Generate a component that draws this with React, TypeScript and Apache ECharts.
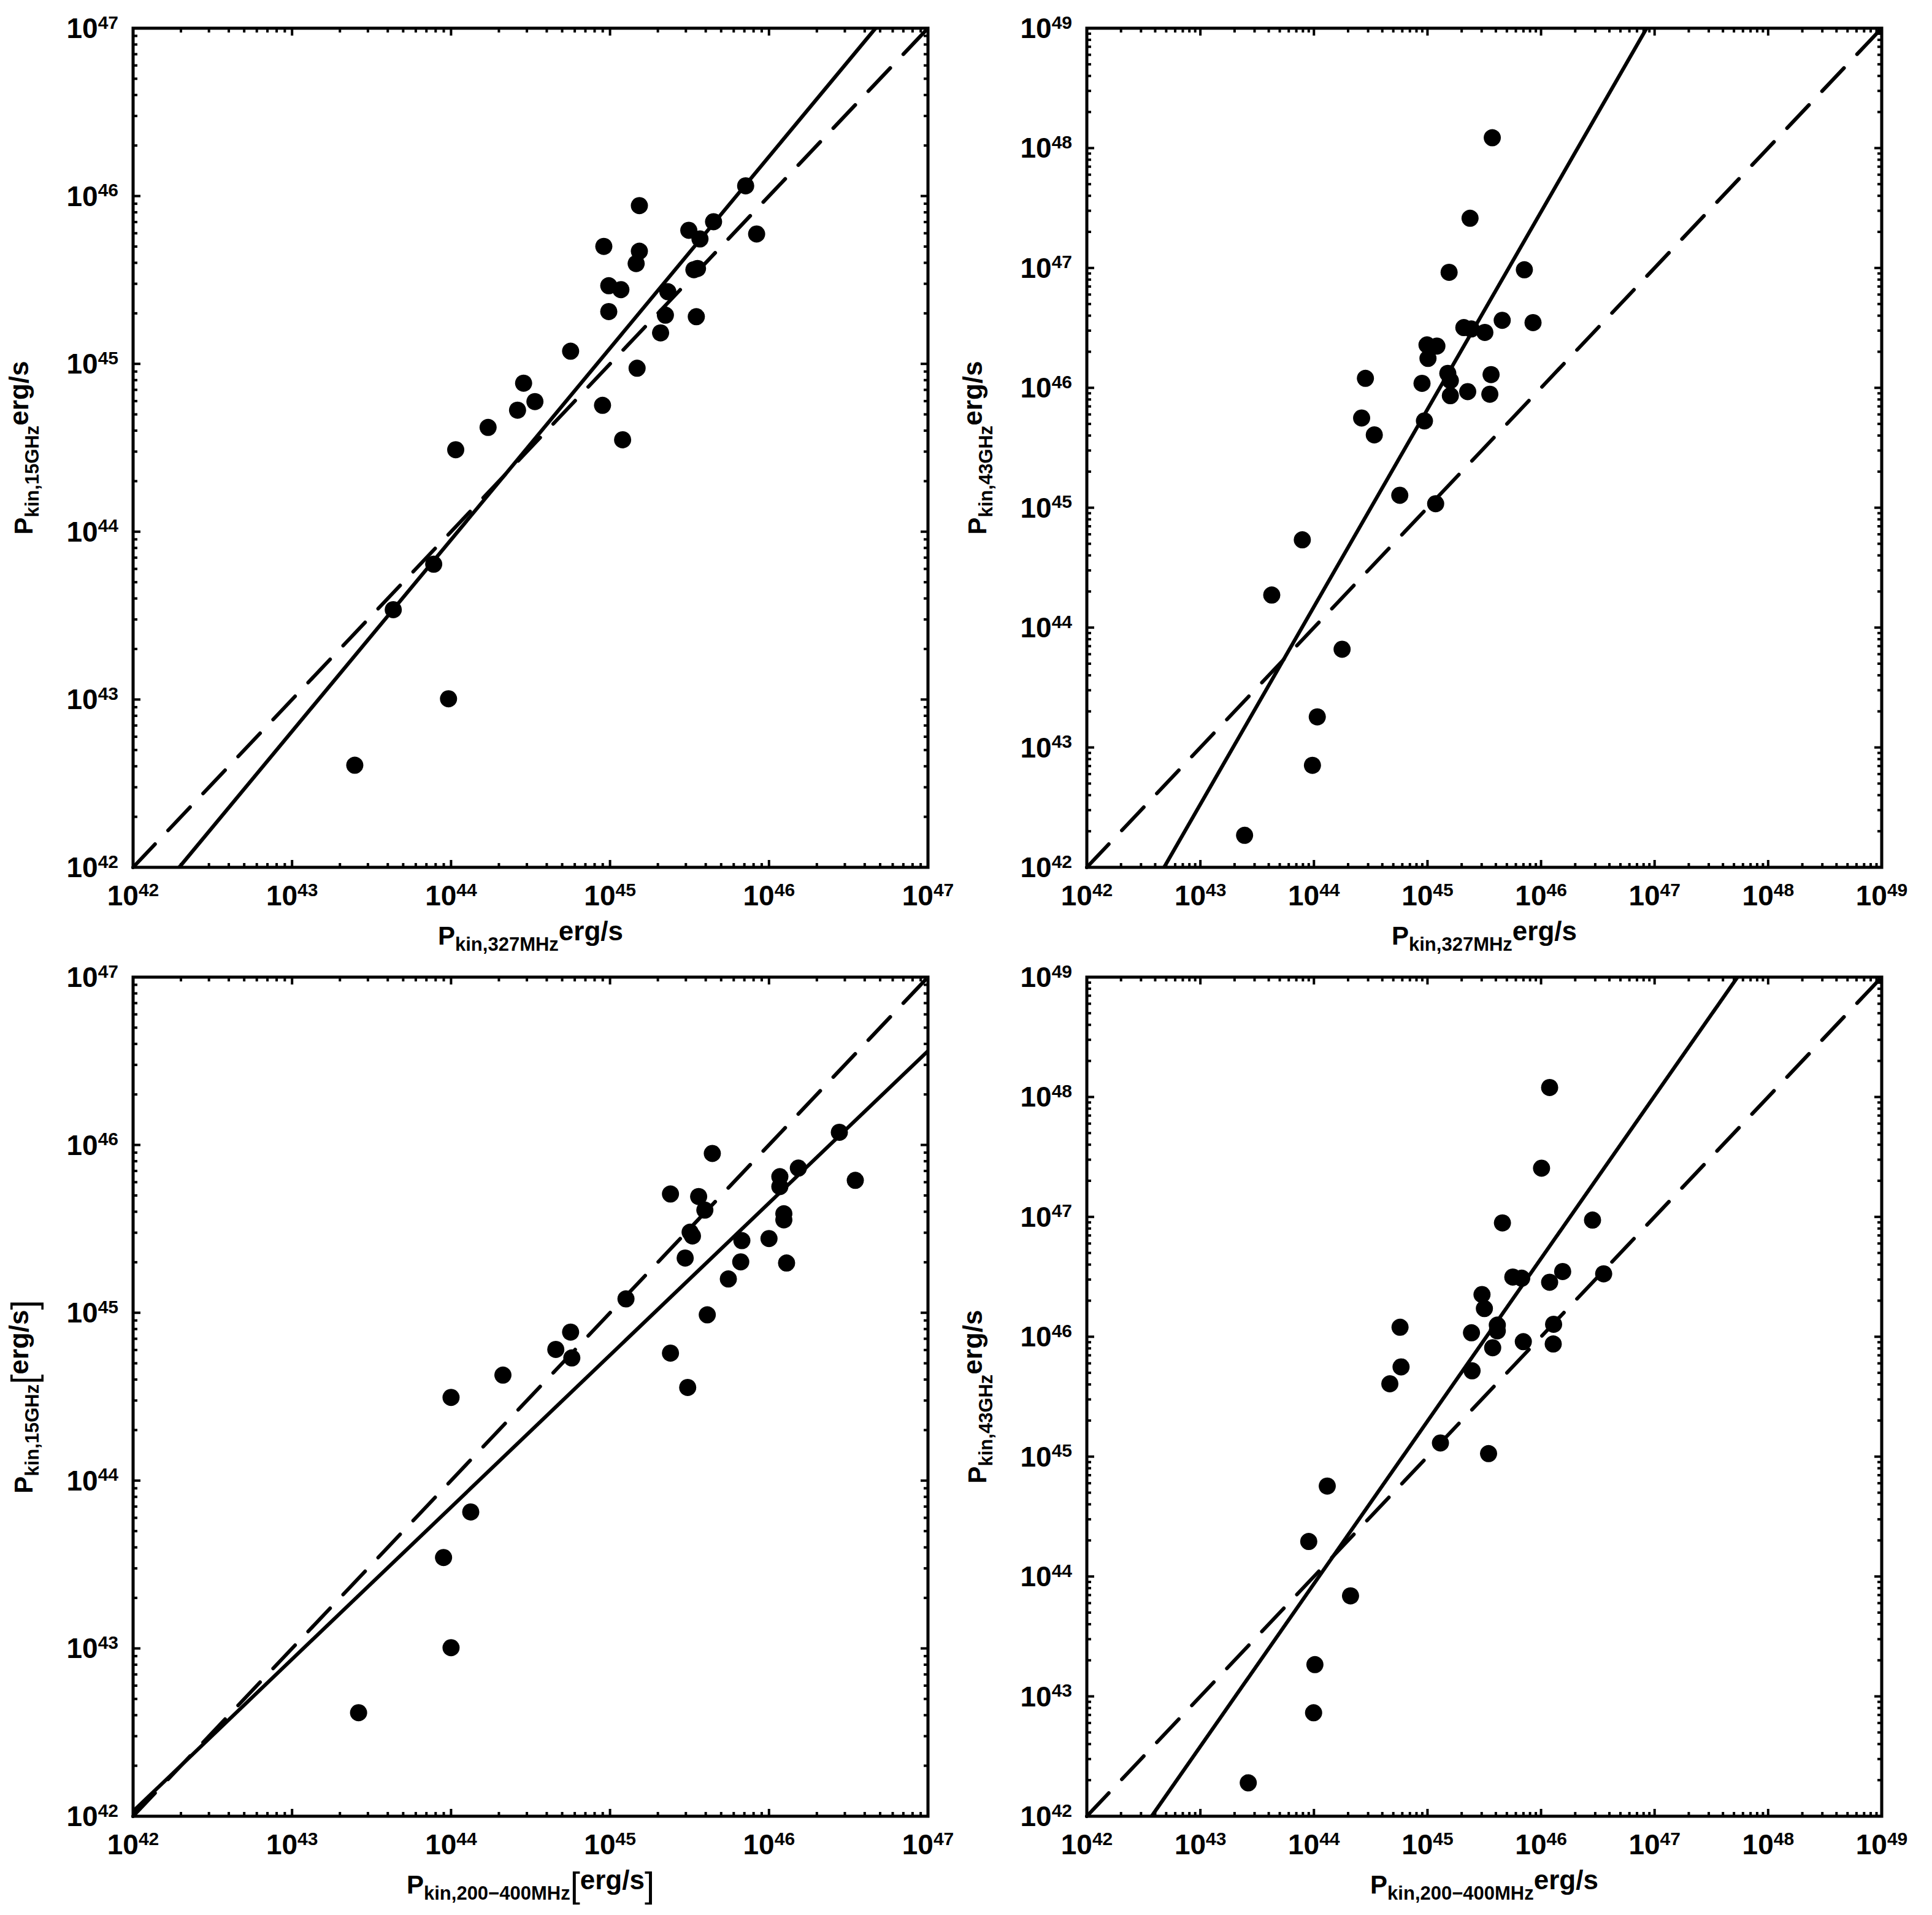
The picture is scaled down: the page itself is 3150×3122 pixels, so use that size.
import React, { useEffect, useRef } from 'react';
import * as echarts from 'echarts';

// ---------- data ----------
// Panel 1: P_kin,327MHz vs P_kin,15GHz
const p1X = [2.48e43, 4.33e43, 7.78e43, 9.64e43, 1.07e44, 1.71e44, 2.62e44, 2.86e44, 3.37e44, 5.65e44, 8.97e44, 9.14e44, 9.82e44, 9.82e44, 1.17e45, 1.2e45, 1.46e45, 1.48e45, 1.53e45, 1.53e45, 2.08e45, 2.23e45, 2.31e45, 3.13e45, 3.37e45, 3.55e45, 3.49e45, 3.68e45, 4.48e45, 7.13e45, 8.36e45];
const p1Y = [4.06e42, 3.43e43, 6.4e43, 1.01e43, 3.08e44, 4.18e44, 5.3e44, 7.67e44, 5.96e44, 1.19e45, 5.66e44, 5.01e45, 2.92e45, 2.05e45, 2.77e45, 3.53e44, 3.96e45, 9.42e44, 4.69e45, 8.77e45, 1.53e45, 1.95e45, 2.69e45, 6.25e45, 3.64e45, 3.7e45, 1.91e45, 5.55e45, 7.03e45, 1.15e46, 5.94e45];

// Panel 2: P_kin,327MHz vs P_kin,43GHz
const p2X = [2.45e43, 4.25e43, 7.9e43, 9.7e43, 1.07e44, 1.77e44, 2.63e44, 2.84e44, 3.4e44, 5.7e44, 8.95e44, 9.4e44, 9.9e44, 1.01e45, 1.18e45, 1.21e45, 1.51e45, 1.55e45, 1.59e45, 1.59e45, 2.09e45, 2.26e45, 2.37e45, 2.43e45, 3.2e45, 3.54e45, 3.63e45, 3.72e45, 4.55e45, 7.13e45, 8.5e45];
const p2Y = [1.85e42, 1.87e44, 5.4e44, 7.1e42, 1.8e43, 6.6e43, 5.6e45, 1.2e46, 4.05e45, 1.27e45, 1.09e46, 5.3e45, 2.28e46, 1.76e46, 1.08e45, 2.23e46, 1.32e46, 9.2e46, 8.6e45, 1.15e46, 3.18e46, 9.3e45, 2.6e47, 3.1e46, 2.9e46, 8.85e45, 1.29e46, 1.22e48, 3.66e46, 9.66e46, 3.5e46];

// Panel 3: P_kin,200-400MHz vs P_kin,15GHz
const p3X = [2.62e43, 8.97e43, 1.0e44, 1.0e44, 1.33e44, 2.12e44, 4.56e44, 5.65e44, 5.75e44, 1.26e45, 2.4e45, 2.4e45, 2.97e45, 3.08e45, 3.19e45, 3.3e45, 3.61e45, 3.95e45, 4.09e45, 4.4e45, 5.55e45, 6.64e45, 6.75e45, 1.0e46, 1.17e46, 1.17e46, 1.24e46, 1.24e46, 1.29e46, 1.53e46, 2.77e46, 3.49e46];
const p3Y = [4.14e42, 3.48e43, 1.01e43, 3.13e44, 6.5e43, 4.25e44, 6.05e44, 7.67e44, 5.38e44, 1.21e45, 5.1e45, 5.75e44, 2.12e45, 3.59e44, 3.02e45, 2.87e45, 4.93e45, 4.09e45, 9.72e44, 8.9e45, 1.59e45, 2.01e45, 2.69e45, 2.77e45, 6.47e45, 5.65e45, 3.58e45, 3.89e45, 1.98e45, 7.28e45, 1.19e46, 6.15e45];

// Panel 4: P_kin,200-400MHz vs P_kin,43GHz
const p4X = [2.64e43, 9.0e43, 9.93e43, 1.02e44, 1.31e44, 2.1e44, 4.66e44, 5.85e44, 5.73e44, 1.3e45, 2.44e45, 2.47e45, 3.02e45, 3.17e45, 3.45e45, 3.75e45, 4.12e45, 4.12e45, 4.57e45, 5.64e45, 6.76e45, 6.98e45, 1.01e46, 1.19e46, 1.19e46, 1.28e46, 1.29e46, 1.55e46, 2.84e46, 3.56e46];
const p4Y = [1.9e42, 1.96e44, 7.3e42, 1.84e43, 5.68e44, 6.9e43, 4.05e45, 5.6e45, 1.2e46, 1.3e45, 1.08e46, 5.2e45, 2.25e46, 1.72e46, 1.06e45, 8.1e45, 1.25e46, 1.12e46, 8.9e46, 3.15e46, 3.08e46, 9.1e45, 2.55e47, 1.2e48, 2.85e46, 8.7e45, 1.27e46, 3.5e46, 9.4e46, 3.35e46];

// fitted (solid) lines, endpoints
const fit1X = [1.95e42, 4.68e46];
const fit1Y = [1e42, 1e47];
const fit2X = [4.79e42, 8.51e46];
const fit2Y = [1e42, 1e49];
const fit3X = [1e42, 1e47];
const fit3Y = [1.07e42, 3.63e46];
const fit4X = [3.72e42, 5.37e47];
const fit4Y = [1e42, 1e49];

// one-to-one (dashed) lines
const equal47 = [1e42, 1e47];
const equal49 = [1e42, 1e49];

// axis ranges (decade exponents)
const expMin = 42;
const expMax47 = 47;
const expMax49 = 49;
const minorMantissas = [2, 3, 4, 5, 6, 7, 8, 9];

// axis titles
const xTitle1 = '{p|P}{sub|kin,327MHz}{u|erg/s}';
const xTitle2 = '{p|P}{sub|kin,327MHz}{u|erg/s}';
const xTitle3 = '{p|P}{sub|kin,200\u2212400MHz}{br|[}{u|erg/s}{br|]}';
const xTitle4 = '{p|P}{sub|kin,200\u2212400MHz}{u|erg/s}';
const yTitle1 = '{p|P}{sub|kin,15GHz}{u|erg/s}';
const yTitle2 = '{p|P}{sub|kin,43GHz}{u|erg/s}';
const yTitle3 = '{p|P}{sub|kin,15GHz}{br|[}{u|erg/s}{br|]}';
const yTitle4 = '{p|P}{sub|kin,43GHz}{u|erg/s}';

const FONT = "'Liberation Sans', Arial, Helvetica, sans-serif";

const panels = [
  { x: p1X, y: p1Y, fitX: fit1X, fitY: fit1Y, eq: equal47, xExp: expMax47, yExp: expMax47, xName: xTitle1, yName: yTitle1, left: 217, top: 46 },
  { x: p2X, y: p2Y, fitX: fit2X, fitY: fit2Y, eq: equal49, xExp: expMax49, yExp: expMax49, xName: xTitle2, yName: yTitle2, left: 1772, top: 46 },
  { x: p3X, y: p3Y, fitX: fit3X, fitY: fit3Y, eq: equal47, xExp: expMax47, yExp: expMax47, xName: xTitle3, yName: yTitle3, left: 217, top: 1593 },
  { x: p4X, y: p4Y, fitX: fit4X, fitY: fit4Y, eq: equal49, xExp: expMax49, yExp: expMax49, xName: xTitle4, yName: yTitle4, left: 1772, top: 1593 },
];

const GRID_W = 1296;
const GRID_H = 1368;

const pow10 = (e: number) => Number('1e' + e);

function tickList(maxExp: number) {
  const major: number[] = [];
  const minor: number[] = [];
  for (let e = expMin; e <= maxExp; e++) {
    major.push(pow10(e));
    if (e < maxExp) minorMantissas.forEach((m) => minor.push(Number(m + 'e' + e)));
  }
  return { major, minor };
}

const labelRich = {
  b: { fontSize: 46, fontWeight: 'bold', fontFamily: FONT, color: '#000', lineHeight: 50 },
  s: { fontSize: 30, fontWeight: 'bold', fontFamily: FONT, color: '#000', lineHeight: 30, verticalAlign: 'top' },
};

const nameRich = {
  p: { fontSize: 42, fontWeight: 'bold', fontFamily: FONT, color: '#000', lineHeight: 60, verticalAlign: 'middle' },
  sub: { fontSize: 31, fontWeight: 'bold', fontFamily: FONT, color: '#000', lineHeight: 38, verticalAlign: 'bottom' },
  u: { fontSize: 44, fontWeight: 'bold', fontFamily: FONT, color: '#000', lineHeight: 43, verticalAlign: 'top' },
  br: { fontSize: 58, fontWeight: 'normal', fontFamily: FONT, color: '#000', lineHeight: 60, verticalAlign: 'middle' },
};

const labelFormatter = (v: number) => {
  const e = Math.round(Math.log10(v));
  return '{b|10}{s|' + e + '}';
};

function buildOption() {
  const grid: any[] = [];
  const xAxis: any[] = [];
  const yAxis: any[] = [];
  const series: any[] = [];

  panels.forEach((p, i) => {
    const xMax = pow10(p.xExp);
    const yMax = pow10(p.yExp);
    const yMin = pow10(expMin);
    const xMin = pow10(expMin);
    grid.push({
      left: p.left,
      top: p.top,
      width: GRID_W,
      height: GRID_H,
      show: true,
      borderColor: '#000',
      borderWidth: 5,
      backgroundColor: 'transparent',
      containLabel: false,
      outerBoundsMode: 'none',
    });
    xAxis.push({
      type: 'log',
      logBase: 10,
      gridIndex: i,
      min: xMin,
      max: xMax,
      splitNumber: p.xExp - expMin,
      axisLine: { show: false },
      axisTick: { show: false },
      minorTick: { show: false },
      splitLine: { show: false },
      axisLabel: { formatter: labelFormatter, rich: labelRich, margin: 21, showMinLabel: true, showMaxLabel: true, hideOverlap: false },
      name: p.xName,
      nameLocation: 'middle',
      nameGap: 81,
      nameTextStyle: { rich: nameRich, color: '#000' },
    });
    yAxis.push({
      type: 'log',
      logBase: 10,
      gridIndex: i,
      min: yMin,
      max: yMax,
      splitNumber: p.yExp - expMin,
      axisLine: { show: false },
      axisTick: { show: false },
      minorTick: { show: false },
      splitLine: { show: false },
      axisLabel: { formatter: labelFormatter, rich: labelRich, margin: 24, showMinLabel: true, showMaxLabel: true, hideOverlap: false },
      name: p.yName,
      nameLocation: 'middle',
      nameGap: 149,
      nameTextStyle: { rich: nameRich, color: '#000' },
    });

    // scatter points
    series.push({
      type: 'scatter',
      xAxisIndex: i,
      yAxisIndex: i,
      symbol: 'circle',
      symbolSize: 28,
      itemStyle: { color: '#000', opacity: 1 },
      data: p.x.map((v, k) => [v, p.y[k]]),
      z: 3,
    });
    // fitted solid line
    series.push({
      type: 'line',
      xAxisIndex: i,
      yAxisIndex: i,
      symbol: 'none',
      showSymbol: false,
      lineStyle: { color: '#000', width: 6, opacity: 1 },
      data: [[p.fitX[0], p.fitY[0]], [p.fitX[1], p.fitY[1]]],
      z: 4,
    });
    // one-to-one dashed line
    series.push({
      type: 'line',
      xAxisIndex: i,
      yAxisIndex: i,
      symbol: 'none',
      showSymbol: false,
      lineStyle: { color: '#000', width: 6, type: [52, 31], cap: 'round', opacity: 1 },
      data: [[p.eq[0], p.eq[0]], [p.eq[1], p.eq[1]]],
      z: 4,
    });

    // ticks (inward, on all four sides, log minor ticks)
    const tx = tickList(p.xExp);
    const ty = tickList(p.yExp);
    const xTickData = [
      ...tx.major.map((v) => [v, yMin, 1]),
      ...tx.minor.map((v) => [v, yMin, 0]),
    ];
    const yTickData = [
      ...ty.major.map((v) => [xMin, v, 1]),
      ...ty.minor.map((v) => [xMin, v, 0]),
    ];
    series.push({
      type: 'custom',
      xAxisIndex: i,
      yAxisIndex: i,
      silent: true,
      clip: false,
      z: 5,
      data: xTickData,
      renderItem: (params: any, api: any) => {
        const v = api.value(0);
        const len = api.value(2) === 1 ? 12 : 7;
        const b = api.coord([v, yMin]);
        const t = api.coord([v, yMax]);
        return {
          type: 'group',
          children: [
            { type: 'line', shape: { x1: b[0], y1: b[1], x2: b[0], y2: b[1] - len }, style: { stroke: '#000', lineWidth: 4 } },
            { type: 'line', shape: { x1: t[0], y1: t[1], x2: t[0], y2: t[1] + len }, style: { stroke: '#000', lineWidth: 4 } },
          ],
        };
      },
    });
    series.push({
      type: 'custom',
      xAxisIndex: i,
      yAxisIndex: i,
      silent: true,
      clip: false,
      z: 5,
      data: yTickData,
      renderItem: (params: any, api: any) => {
        const v = api.value(1);
        const len = api.value(2) === 1 ? 12 : 7;
        const l = api.coord([xMin, v]);
        const r = api.coord([xMax, v]);
        return {
          type: 'group',
          children: [
            { type: 'line', shape: { x1: l[0], y1: l[1], x2: l[0] + len, y2: l[1] }, style: { stroke: '#000', lineWidth: 4 } },
            { type: 'line', shape: { x1: r[0], y1: r[1], x2: r[0] - len, y2: r[1] }, style: { stroke: '#000', lineWidth: 4 } },
          ],
        };
      },
    });
  });

  return {
    animation: false,
    backgroundColor: '#fff',
    textStyle: { fontFamily: FONT, color: '#000' },
    grid,
    xAxis,
    yAxis,
    series,
  };
}

export default function App() {
  const ref = useRef<HTMLDivElement>(null);
  useEffect(() => {
    document.body.style.margin = '0';
    if (!ref.current) return;
    const chart = echarts.init(ref.current, undefined, { renderer: 'svg' });
    chart.setOption(buildOption() as any);
    return () => chart.dispose();
  }, []);
  return <div ref={ref} style={{ width: 3150, height: 3122, background: '#fff' }} />;
}
